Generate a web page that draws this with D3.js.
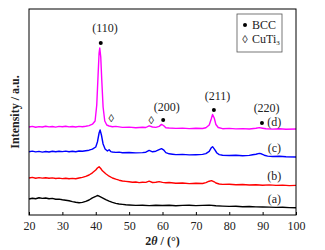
<!DOCTYPE html>
<html>
<head>
<meta charset="utf-8">
<script src="https://cdn.jsdelivr.net/npm/d3@7"></script>
<style>
  body { margin: 0; background: #fff; }
  text { font-family: "Liberation Serif", "Times New Roman", serif; }
</style>
</head>
<body>
<div id="chart-area"></div>
<script>
// XRD patterns, [2theta, intensity a.u.]
var curveA = [[20,16],[21,16.8],[22,16.3],[23,17.2],[24,16.6],[25,17],[26,16.2],[27,16.6],[28,15.8],[29,15.9],[30,15.2],[31,14.8],[32,14.2],[33,13.4],[34,12.8],[35,12.3],[36,12.6],[37,13.6],[38,15],[39,17.2],[40,18.6],[40.5,19.5],[41,18.8],[42,17.2],[43,15.4],[44,13.8],[45,12.6],[46,11.6],[47,11],[48,10.6],[49,10.2],[50,10],[52,9.6],[54,9.8],[56,9.4],[58,9.7],[60,9.5],[62,9.8],[64,9.3],[66,9.6],[68,9.8],[70,9.4],[72,9.6],[74,9.9],[76,9.2],[78,8.9],[80,8.6],[82,8.8],[84,8.3],[86,8.5],[88,8.1],[90,8],[92,7.9],[94,7.6],[96,7.8],[98,7.4],[100,7.3]];
var curveB = [[20,37],[21,37.6],[22,36.8],[23,37.4],[24,36.9],[25,37.3],[26,36.7],[27,37.1],[28,36.5],[29,36.9],[30,36.4],[31,36.8],[32,36.2],[33,36.6],[34,36.3],[35,37],[36,37.6],[37,38.6],[38,40],[39,42.2],[40,45],[40.5,47],[41,48.3],[41.5,46.5],[42,44.2],[43,41.2],[44,38.8],[45,37],[46,35.8],[47,34.8],[48,34],[49,33.6],[50,33.2],[51,32.8],[52,33],[53,32.4],[54,32.7],[55,32.6],[56,33.8],[57,32.5],[58,32.8],[59,33.4],[60,32.6],[61,32.2],[62,32.5],[64,31.8],[66,32],[68,31.4],[70,31.7],[72,31.5],[73,32.4],[74,33.8],[74.7,34.4],[75.5,33.2],[76,32],[77,31],[78,30.6],[80,30.8],[82,30.2],[84,30.5],[86,30],[88,30.3],[90,29.8],[92,30.1],[94,29.6],[96,29.9],[98,29.4],[100,29.6]];
var curveC = [[20,63.3],[21,63.9],[22,63.1],[23,63.6],[24,62.9],[25,63.5],[26,63],[27,63.7],[28,63.2],[29,63.8],[30,63.4],[31,63.9],[32,63.2],[33,63.8],[34,63.3],[35,64],[36,63.7],[37,64.3],[38,64.8],[39,65.8],[40,68],[40.5,73],[41,82],[41.3,85],[41.7,80],[42.2,71],[42.8,66],[43.5,64],[44,65.2],[44.5,63.4],[45,63],[46,62.6],[47,62.9],[48,62.3],[50,62.5],[52,62.1],[54,62.4],[55,62.8],[56,64.6],[57,63.2],[58,63.8],[59,65.4],[59.7,66.4],[60.3,65.2],[61,62.4],[62,61.2],[63,60.8],[64,60.4],[66,60.6],[68,60.1],[70,60.3],[72,60.6],[73,61.4],[74,63.6],[74.6,67.2],[75,68.3],[75.6,65.6],[76.3,62],[77,60.4],[78,59.8],[80,59.5],[82,59.7],[84,59.2],[86,59.6],[87,60.3],[88,60.8],[89,61.6],[89.6,61.2],[90.5,59.8],[91.5,58.9],[93,58.5],[95,58.7],[97,58.2],[100,58]];
var curveD = [[20,88],[21,88.6],[22,87.8],[23,88.4],[24,88],[25,88.7],[26,88.1],[27,88.5],[28,87.9],[29,88.6],[30,88.2],[31,88.8],[32,88.1],[33,88.5],[34,88],[35,88.6],[36,88.3],[37,88.8],[38,89.4],[39,90.8],[39.8,94],[40.3,110],[40.7,140],[41,162],[41.2,167],[41.5,158],[41.8,135],[42.2,108],[42.7,94],[43.3,90],[44,89],[45,88.2],[46,88.6],[48,87.6],[50,87.9],[52,87.3],[54,87.7],[55,87.5],[56,89.2],[57,88],[58,87.6],[59,88.6],[59.7,90.6],[60.3,89.5],[61,87.3],[62,87],[64,86.6],[66,86.9],[68,86.4],[70,86.7],[72,86.5],[73,87.3],[74,90],[74.6,96],[75,100.5],[75.5,97],[76,90.5],[76.7,87.5],[78,86.3],[80,86.6],[82,86.1],[84,86.4],[86,86],[88,86.7],[89,87.4],[90,86.8],[91,86.2],[93,85.9],[95,86.3],[97,85.8],[100,86]];

var seriesNames = ["(a)", "(b)", "(c)", "(d)"];
var seriesColors = ["#000000", "#ff0000", "#0000ff", "#ff00ff"];
var seriesLabelY = [16, 39, 67, 93];

// peak markers
var bccPeaks = [[41.5, 172], [60.2, 95], [75.4, 105], [89.8, 92]];
var bccLabels = ["(110)", "(200)", "(211)", "(220)"];
var bccLabelPos = [[42.8, 187], [61.3, 108], [76.5, 119], [91.2, 107]];
var cuTi3Peaks = [[44.6, 97], [56.6, 95]];

var xTicks = [20, 30, 40, 50, 60, 70, 80, 90, 100];

var W = 325, H = 250;
var margin = { top: 9, right: 29, bottom: 35, left: 29 },
    width = W - margin.left - margin.right,
    height = H - margin.top - margin.bottom;

var svg = d3.select("#chart-area")
    .append("svg")
    .attr("width", W)
    .attr("height", H)
    .append("g")
    .attr("transform", `translate(${margin.left},${margin.top})`);

var x = d3.scaleLinear().domain([20, 100]).range([0, width]);
var y = d3.scaleLinear().domain([0, height]).range([height, 0]);

var xAxis = d3.axisBottom(x)
    .tickValues(xTicks)
    .tickSizeInner(-3)
    .tickSizeOuter(0)
    .tickPadding(6);

var gx = svg.append("g")
    .attr("transform", `translate(0,${height})`)
    .call(xAxis);
gx.select(".domain").remove();
gx.selectAll("text")
    .attr("font-family", "Liberation Serif, serif")
    .attr("font-size", "12px")
    .attr("fill", "#222");
gx.selectAll("line").attr("stroke", "#000");

var line = d3.line().x(d => x(d[0])).y(d => y(d[1]));

[curveA, curveB, curveC, curveD].forEach((c, i) => {
    svg.append("path")
        .datum(c)
        .attr("fill", "none")
        .attr("stroke", seriesColors[i])
        .attr("stroke-width", 1.4)
        .attr("stroke-linejoin", "round")
        .attr("d", line);

    svg.append("text")
        .attr("x", x(93.5))
        .attr("y", y(seriesLabelY[i]))
        .attr("dy", "0.35em")
        .attr("text-anchor", "middle")
        .attr("font-size", "12px")
        .attr("fill", "#222")
        .text(seriesNames[i]);
});

// frame
svg.append("rect")
    .attr("width", width)
    .attr("height", height)
    .attr("fill", "none")
    .attr("stroke", "#000")
    .attr("stroke-width", 1);

svg.selectAll(".bcc-dot")
    .data(bccPeaks)
    .enter()
    .append("circle")
    .attr("cx", d => x(d[0]))
    .attr("cy", d => y(d[1]))
    .attr("r", 2)
    .attr("fill", "#000");

svg.selectAll(".bcc-label")
    .data(bccLabelPos)
    .enter()
    .append("text")
    .attr("x", d => x(d[0]))
    .attr("y", d => y(d[1]))
    .attr("dy", "0.35em")
    .attr("text-anchor", "middle")
    .attr("font-size", "12px")
    .attr("fill", "#222")
    .text((d, i) => bccLabels[i]);

svg.selectAll(".cuti-mark")
    .data(cuTi3Peaks)
    .enter()
    .append("text")
    .attr("x", d => x(d[0]))
    .attr("y", d => y(d[1]))
    .attr("dy", "0.35em")
    .attr("text-anchor", "middle")
    .attr("font-size", "11px")
    .attr("fill", "#222")
    .text("\u25CA");

// legend
var legend = svg.append("g").attr("transform", `translate(${237 - margin.left},${14 - margin.top})`);
legend.append("rect")
    .attr("width", 45)
    .attr("height", 38)
    .attr("fill", "#fff")
    .attr("stroke", "#555")
    .attr("stroke-width", 0.8);
legend.append("circle").attr("cx", 8).attr("cy", 11).attr("r", 2).attr("fill", "#000");
legend.append("text").attr("x", 15).attr("y", 11).attr("dy", "0.35em")
    .attr("font-size", "12px").attr("fill", "#222").text("BCC");
legend.append("text").attr("x", 8).attr("y", 25).attr("dy", "0.35em")
    .attr("text-anchor", "middle").attr("font-size", "11px").attr("fill", "#222").text("\u25CA");
var cuText = legend.append("text").attr("x", 15).attr("y", 25).attr("dy", "0.35em")
    .attr("font-size", "12px").attr("fill", "#222");
cuText.append("tspan").text("CuTi");
cuText.append("tspan").attr("font-size", "7px").attr("dy", "2").text("3");

// axis labels
var xl = svg.append("text")
    .attr("x", width / 2)
    .attr("y", height + 30)
    .attr("text-anchor", "middle")
    .attr("font-size", "12px")
    .attr("font-weight", "bold")
    .attr("fill", "#222");
xl.append("tspan").text("2");
xl.append("tspan").attr("font-style", "italic").text("\u03B8");
xl.append("tspan").text(" / (\u00B0)");

svg.append("text")
    .attr("transform", "rotate(-90)")
    .attr("x", -height / 2)
    .attr("y", -10)
    .attr("text-anchor", "middle")
    .attr("font-size", "12px")
    .attr("font-weight", "bold")
    .attr("fill", "#222")
    .text("Intensity / a.u.");
</script>
</body>
</html>
